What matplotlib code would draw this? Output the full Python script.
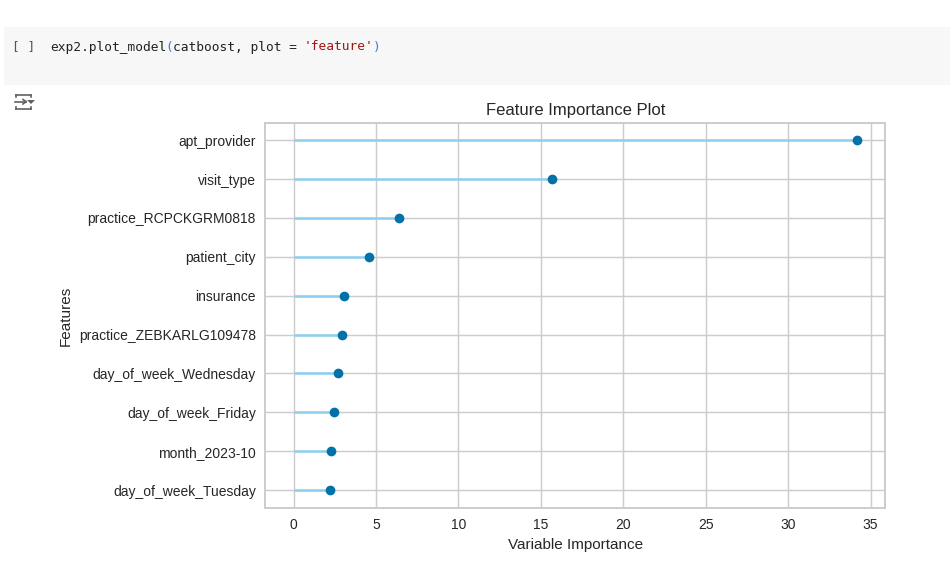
import matplotlib
matplotlib.use("Agg")
import matplotlib.pyplot as plt
from matplotlib.patches import Rectangle
from matplotlib.lines import Line2D

features = ["day_of_week_Tuesday", "month_2023-10", "day_of_week_Friday",
            "day_of_week_Wednesday", "practice_ZEBKARLG109478", "insurance",
            "patient_city", "practice_RCPCKGRM0818", "visit_type", "apt_provider"]
importance = [2.2, 2.25, 2.45, 2.68, 2.92, 3.05, 4.57, 6.4, 15.65, 34.15]
xticks = [0, 5, 10, 15, 20, 25, 30, 35]
code_parts = [("exp2.plot_model", "#212121"), ("(", "#3b78e7"), ("catboost, plot = ", "#212121"),
              ("'feature'", "#a31515"), (")", "#3b78e7")]

W, H = 950, 584
plt.rcParams["font.family"] = ["Liberation Sans", "DejaVu Sans"]
fig = plt.figure(figsize=(W / 100, H / 100), dpi=100, facecolor="white")

def fx(px): return px / W
def fy(py): return 1 - py / H

# notebook cell
fig.add_artist(Rectangle((fx(4), fy(85)), (W - 4) / W, 58 / H, transform=fig.transFigure,
                         facecolor="#f7f7f7", edgecolor="none"))
fig.text(fx(12.5), fy(47), "[ ]", family="DejaVu Sans Mono", fontsize=9.3, color="#555555", va="center")
cx = 49.5
for s, c in code_parts:
    fig.text(fx(cx + 0.3), fy(47), s.rstrip(), family="DejaVu Sans Mono", fontsize=9.3, color=c, va="center")
    cx += len(s) * 7.7

# output icon
icon = "#616161"
segs = [((16, 31), (94.5, 94.5)), ((16, 16), (94.5, 97)), ((31, 31), (94.5, 97)),
        ((16, 31), (109, 109)), ((16, 16), (106.5, 109)), ((31, 31), (106.5, 109)),
        ((15, 26), (101.7, 101.7)), ((23, 26), (99.5, 101.7)), ((23, 26), (104, 101.7))]
for xs, ys in segs:
    fig.add_artist(Line2D([fx(v) for v in xs], [fy(v) for v in ys], transform=fig.transFigure,
                          color=icon, lw=1.2))
tri_x, tri_y = [27, 35, 31, 27], [100, 100, 104, 100]
fig.add_artist(plt.Polygon(list(zip([fx(v) for v in tri_x], [fy(v) for v in tri_y])),
                           transform=fig.transFigure, facecolor=icon, edgecolor="none"))

# chart
L, R, T, B = 265, 885, 123, 508
ax = fig.add_axes([fx(L), fy(B), (R - L) / W, (B - T) / H])
grid = "#cccccc"
ax.set_facecolor("white")
ax.set_axisbelow(True)
ax.grid(True, color=grid, lw=1.05)
for s in ax.spines.values():
    s.set_color(grid)
    s.set_linewidth(1.4)
ypos = list(range(len(features)))
ax.hlines(ypos, 0, importance, color="#8ccff0", lw=1.8, zorder=2)
ax.plot(importance, ypos, "o", color="#0072a8", ms=7.0, mew=0, zorder=3, clip_on=False)
ax.set_yticks(ypos)
ax.set_yticklabels(features)
ax.set_xticks(xticks)
ax.set_xlim(-1.73, 35.87)
ax.set_ylim(-0.46, 9.44)
ax.tick_params(length=0, labelsize=10, labelcolor="#262626")
ax.tick_params(axis="y", pad=6.5)
ax.tick_params(axis="x", pad=7)
ax.set_title("Feature Importance Plot", fontsize=12, color="#262626", pad=5.7, x=0.5015)
ax.set_xlabel("Variable Importance", fontsize=11, color="#262626")
ax.set_ylabel("Features", fontsize=11, color="#262626")
ax.xaxis.set_label_coords(0.5015, -0.0785)
ax.yaxis.set_label_coords(-0.3105, 0.5)

fig.savefig("out.png", dpi=100, facecolor="white")
